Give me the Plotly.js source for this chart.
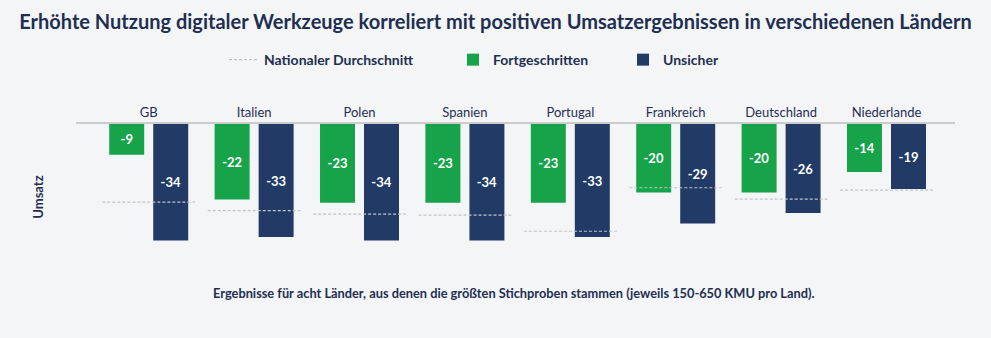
<!DOCTYPE html>
<html>
<head>
<meta charset="utf-8">
<script src="https://cdn.plot.ly/plotly-3.0.1.min.js"></script>
<style>html,body{margin:0;padding:0;background:#f4f5f7;}#chart{width:991px;height:338px;}</style>
</head>
<body>
<div id="chart"></div>
<script>
const categories = ['GB','Italien','Polen','Spanien','Portugal','Frankreich','Deutschland','Niederlande'];
const fortgeschritten = [-9,-22,-23,-23,-23,-20,-20,-14];
const unsicher = [-34,-33,-34,-34,-33,-29,-26,-19];
const nationalerDurchschnitt = [-22.8,-25.3,-26.3,-26.6,-31.3,-18.6,-21.9,-19.3];

const FONT = 'Lato, "Noto Sans", sans-serif';
const NAVY = '#1e2f52';
const GREEN = '#16a34a';
const BLUE = '#213b66';
const idx = categories.map((c,i)=>i);

const half = 0.44;
const lx = [], ly = [];
nationalerDurchschnitt.forEach((v,i)=>{ lx.push(i-half, i+half, null); ly.push(v, v, null); });

const data = [
  {type:'bar', name:'Fortgeschritten', x:idx, y:fortgeschritten, marker:{color:GREEN},
   text:fortgeschritten.map(String), textposition:'inside', insidetextanchor:'middle',
   textfont:{color:'#ffffff', size:13, family:FONT, weight:'bold'}, legend:'legend2', hoverinfo:'skip'},
  {type:'bar', name:'Unsicher', x:idx, y:unsicher, marker:{color:BLUE},
   text:unsicher.map(String), textposition:'inside', insidetextanchor:'middle',
   textfont:{color:'#ffffff', size:13, family:FONT, weight:'bold'}, legend:'legend3', hoverinfo:'skip'},
  {type:'scatter', mode:'lines', name:'Nationaler Durchschnitt', x:lx, y:ly,
   line:{color:'#c2c4c8', width:1.2, dash:'3px,2px'}, legend:'legend', hoverinfo:'skip'}
];

const legBase = {orientation:'h', yanchor:'middle', y:1.438, xanchor:'left',
  font:{size:14, family:FONT, color:NAVY, weight:'bold'}, bgcolor:'rgba(0,0,0,0)'};

const layout = {
  width:991, height:338,
  paper_bgcolor:'#f4f5f7', plot_bgcolor:'#f4f5f7',
  margin:{l:76, r:36, t:124, b:68},
  font:{family:FONT, color:NAVY},
  title:{text:'Erhöhte Nutzung digitaler Werkzeuge korreliert mit positiven Umsatzergebnissen in verschiedenen Ländern',
    font:{size:20, family:FONT, color:NAVY, weight:'bold'}, x:0.5, xanchor:'center', y:0.935, yref:'container', yanchor:'middle'},
  barmode:'group', bargap:0.165, bargroupgap:0.205,
  showlegend:true,
  legend:Object.assign({}, legBase, {x:(224-76)/879}),
  legend2:Object.assign({}, legBase, {x:(453-76)/879}),
  legend3:Object.assign({}, legBase, {x:(623-76)/879}),
  xaxis:{range:[-0.69,7.65], side:'top', tickvals:idx, ticktext:categories, ticks:'',
    showline:true, linecolor:'#cccccc', linewidth:2, showgrid:false, zeroline:false,
    tickfont:{size:13, family:FONT, color:NAVY}, fixedrange:true},
  yaxis:{range:[-42.6,0], showticklabels:false, ticks:'', showgrid:false, zeroline:false, showline:false,
    title:{text:'Umsatz', font:{size:13, family:FONT, color:NAVY, weight:'bold'}, standoff:28}, fixedrange:true},
  annotations:[{text:'Ergebnisse für acht Länder, aus denen die größten Stichproben stammen (jeweils 150-650 KMU pro Land).',
    xref:'paper', yref:'paper', x:0.498, y:-0.158, xanchor:'center', yanchor:'middle', showarrow:false,
    font:{size:12.8, family:FONT, color:NAVY, weight:'bold'}}]
};

Plotly.newPlot('chart', data, layout, {displayModeBar:false, staticPlot:true});
</script>
</body>
</html>
